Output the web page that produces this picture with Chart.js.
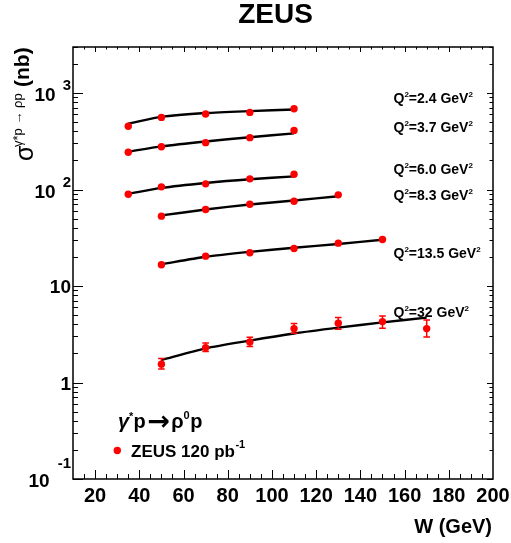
<!DOCTYPE html>
<html>
<head>
<meta charset="utf-8">
<script src="https://cdn.jsdelivr.net/npm/chart.js@4/dist/chart.umd.min.js"></script>
<style>
  html, body { margin: 0; padding: 0; background: #ffffff; }
  canvas { display: block; }
</style>
</head>
<body>
<canvas id="c" width="511" height="543"></canvas>
<script>
// ---------------- data ----------------
const seriesNames = ['2.4', '3.7', '6.0', '8.3', '13.5', '32'];

const wQ24 = [35, 50, 70, 90, 110];
const sigQ24 = [452, 559, 607, 630, 688];
const fitQ24 = [481, 566, 620, 650, 675];

const wQ37 = [35, 50, 70, 90, 110];
const sigQ37 = [243, 278, 306, 345, 410];
const fitQ37 = [247, 280, 315, 348, 382];

const wQ60 = [35, 50, 70, 90, 110];
const sigQ60 = [89.4, 106.6, 114.5, 129, 144];
const fitQ60 = [90.3, 104, 117, 128, 137];

const wQ83 = [50, 70, 90, 110, 130];
const sigQ83 = [53, 62.1, 70.5, 75.7, 88.1];
const fitQ83 = [53.9, 62, 70, 77, 85.3];

const wQ135 = [50, 70, 90, 110, 130, 150];
const sigQ135 = [16.6, 20.4, 22.1, 24.5, 27.8, 30.4];
const fitQ135 = [16.8, 20.1, 22.6, 24.9, 27.3, 30.2];

const wQ32 = [50, 70, 90, 110, 130, 150, 170];
const sigQ32 = [1.55, 2.30, 2.63, 3.62, 4.11, 4.28, 3.62];
const sigQ32Lo = [1.38, 2.09, 2.36, 3.24, 3.56, 3.65, 2.97];
const sigQ32Hi = [1.77, 2.56, 2.95, 4.08, 4.71, 4.90, 4.45];
const fitWQ32 = [50, 70, 90, 110, 130, 150, 170];
const fitQ32 = [1.71, 2.26, 2.72, 3.22, 3.70, 4.20, 4.71];

const xTickLabels = ['20', '40', '60', '80', '100', '120', '140', '160', '180', '200'];
const yTickValues = [0.1, 1, 10, 100, 1000];
const yTickBase = ['10', '1', '10', '10', '10'];
const yTickExp = ['-1', '', '', '2', '3'];

// ---------------- chart building ----------------
const FONT = '"Liberation Sans", Arial, Helvetica, sans-serif';
const toXY = (ws, vs) => ws.map((w, i) => ({ x: w, y: vs[i] }));

const pointSets = [
  [wQ24, sigQ24], [wQ37, sigQ37], [wQ60, sigQ60],
  [wQ83, sigQ83], [wQ135, sigQ135], [wQ32, sigQ32]
];
const fitSets = [
  [wQ24, fitQ24], [wQ37, fitQ37], [wQ60, fitQ60],
  [wQ83, fitQ83], [wQ135, fitQ135], [fitWQ32, fitQ32]
];

const datasets = [];
fitSets.forEach((s, i) => {
  datasets.push({
    type: 'line',
    label: 'fit Q2=' + seriesNames[i],
    data: toXY(s[0], s[1]),
    borderColor: '#000000',
    borderWidth: 2.4,
    pointRadius: 0,
    tension: 0.25,
    fill: false,
    order: 2
  });
});
pointSets.forEach((s, i) => {
  datasets.push({
    type: 'line',
    label: 'ZEUS Q2=' + seriesNames[i],
    data: toXY(s[0], s[1]),
    showLine: false,
    pointRadius: 3.7,
    pointBackgroundColor: '#ff0000',
    pointBorderWidth: 0,
    order: 0
  });
});

// annotation anchors (data coordinates) for the Q^2 labels
const qLabelW = 155;
const qLabelSigma = [881, 448, 163, 87.7, 22.1, 5.42];

const errorBars = {
  id: 'errorBars',
  afterDatasetsDraw(chart) {
    const { ctx, scales: { x, y } } = chart;
    ctx.save();
    ctx.strokeStyle = '#ff0000';
    ctx.lineWidth = 1.5;
    wQ32.forEach((w, i) => {
      const px = x.getPixelForValue(w);
      const yl = y.getPixelForValue(sigQ32Lo[i]);
      const yh = y.getPixelForValue(sigQ32Hi[i]);
      ctx.beginPath();
      ctx.moveTo(px, yl); ctx.lineTo(px, yh);
      ctx.moveTo(px - 3.3, yl); ctx.lineTo(px + 3.3, yl);
      ctx.moveTo(px - 3.3, yh); ctx.lineTo(px + 3.3, yh);
      ctx.stroke();
    });
    ctx.restore();
  }
};

const frameAndText = {
  id: 'frameAndText',
  afterDraw(chart) {
    const { ctx, chartArea: a, scales: { x, y } } = chart;
    ctx.save();
    ctx.strokeStyle = '#000000';
    ctx.fillStyle = '#000000';

    // frame
    ctx.lineWidth = 1.5;
    ctx.strokeRect(a.left, a.top, a.right - a.left, a.bottom - a.top);

    // x ticks
    ctx.lineWidth = 1;
    ctx.beginPath();
    for (let v = x.min + 5; v < x.max; v += 5) {
      const px = Math.round(x.getPixelForValue(v)) + 0.5;
      const major = v % 20 === 0;
      ctx.moveTo(px, a.bottom); ctx.lineTo(px, a.bottom - (major ? 9 : 5));
      ctx.moveTo(px, a.top); ctx.lineTo(px, a.top + (major ? 5 : 2.5));
    }
    // y ticks
    yTickValues.forEach(d => {
      for (let m = 1; m <= 9; m++) {
        const v = d * m;
        if (v > y.max) break;
        const py = Math.round(y.getPixelForValue(v)) + 0.5;
        const major = m === 1;
        ctx.moveTo(a.left, py); ctx.lineTo(a.left + (major ? 10 : 5), py);
        ctx.moveTo(a.right, py); ctx.lineTo(a.right - (major ? 6 : 3.5), py);
      }
    });
    ctx.stroke();

    // x tick labels
    ctx.font = 'bold 20px ' + FONT;
    ctx.textAlign = 'center';
    ctx.textBaseline = 'alphabetic';
    xTickLabels.forEach(t => {
      ctx.fillText(t, x.getPixelForValue(Number(t)), 502);
    });

    // y tick labels
    const yRight = 71;
    yTickValues.forEach((v, i) => {
      const py = y.getPixelForValue(v);
      const exp = yTickExp[i];
      ctx.textAlign = 'right';
      if (exp === '') {
        ctx.font = 'bold 19px ' + FONT;
        ctx.fillText(yTickBase[i], yRight, py + 7);
      } else {
        ctx.font = 'bold 15px ' + FONT;
        const ew = ctx.measureText(exp).width;
        const neg = exp.charAt(0) === '-';
        ctx.fillText(exp, yRight, neg ? py - 11 : py - 3);
        ctx.font = 'bold 19px ' + FONT;
        ctx.fillText(yTickBase[i], yRight - ew - (neg ? 8 : 7), py + 8);
      }
    });

    // x axis title
    ctx.font = 'bold 20px ' + FONT;
    ctx.textAlign = 'right';
    ctx.fillText('W (GeV)', 492, 533);

    // title
    ctx.font = 'bold 28px ' + FONT;
    ctx.textAlign = 'center';
    ctx.fillText('ZEUS', 275.5, 23);

    // y axis title (rotated)
    ctx.save();
    ctx.translate(33, 161);
    ctx.rotate(-Math.PI / 2);
    ctx.textAlign = 'left';
    ctx.font = '25px ' + FONT;
    ctx.fillText('\u03C3', 0, 0);
    ctx.font = '13px ' + FONT;
    ctx.fillText('\u03B3*p \u2192 \u03C1p', 14, -11);
    ctx.font = 'bold 21px ' + FONT;
    ctx.fillText('(nb)', 74, -4);
    ctx.restore();

    // Q^2 labels
    ctx.textAlign = 'left';
    seriesNames.forEach((q, i) => {
      let px = x.getPixelForValue(qLabelW);
      const base = y.getPixelForValue(qLabelSigma[i]) + 5;
      ctx.font = 'bold 14px ' + FONT;
      ctx.fillText('Q', px, base);
      px += ctx.measureText('Q').width;
      ctx.font = 'bold 8px ' + FONT;
      ctx.fillText('2', px, base - 6);
      px += ctx.measureText('2').width;
      ctx.font = 'bold 14px ' + FONT;
      const mid = '=' + q + ' GeV';
      ctx.fillText(mid, px, base);
      px += ctx.measureText(mid).width;
      ctx.font = 'bold 8px ' + FONT;
      ctx.fillText('2', px, base - 6);
    });

    // reaction label
    let rx = 118;
    const rb = 428;
    const piece = (txt, font, dy, gapAfter) => {
      ctx.font = font;
      ctx.fillText(txt, rx, rb + dy);
      rx += ctx.measureText(txt).width + (gapAfter || 0);
    };
    piece('\u03B3', 'italic bold 20px ' + FONT, 0, 0);
    piece('*', 'bold 11px ' + FONT, -8, 0);
    piece('p', 'bold 20px ' + FONT, 0, 2);
    piece('\u2192', 'bold 27px "DejaVu Sans", ' + FONT, 2, 1);
    piece('\u03C1', 'bold 20px ' + FONT, 0, 0);
    piece('0', 'bold 11px ' + FONT, -9, 0.5);
    piece('p', 'bold 20px ' + FONT, 0, 0);

    // legend entry
    ctx.fillStyle = '#ff0000';
    ctx.beginPath();
    ctx.arc(117.3, 450.5, 3.7, 0, Math.PI * 2);
    ctx.fill();
    ctx.fillStyle = '#000000';
    ctx.font = 'bold 17px ' + FONT;
    ctx.fillText('ZEUS 120 pb', 131, 456.5);
    const lw = ctx.measureText('ZEUS 120 pb').width;
    ctx.font = 'bold 11px ' + FONT;
    ctx.fillText('-1', 131 + lw + 0.5, 448);

    ctx.restore();
  }
};

new Chart(document.getElementById('c'), {
  type: 'line',
  data: { datasets },
  options: {
    responsive: false,
    animation: false,
    devicePixelRatio: 1,
    layout: { padding: { left: 73, right: 18, top: 47, bottom: 64 } },
    plugins: { legend: { display: false }, tooltip: { enabled: false } },
    scales: {
      x: { type: 'linear', min: 10, max: 200, display: false },
      y: { type: 'logarithmic', min: 0.1, max: 3000, display: false }
    }
  },
  plugins: [errorBars, frameAndText]
});
</script>
</body>
</html>
